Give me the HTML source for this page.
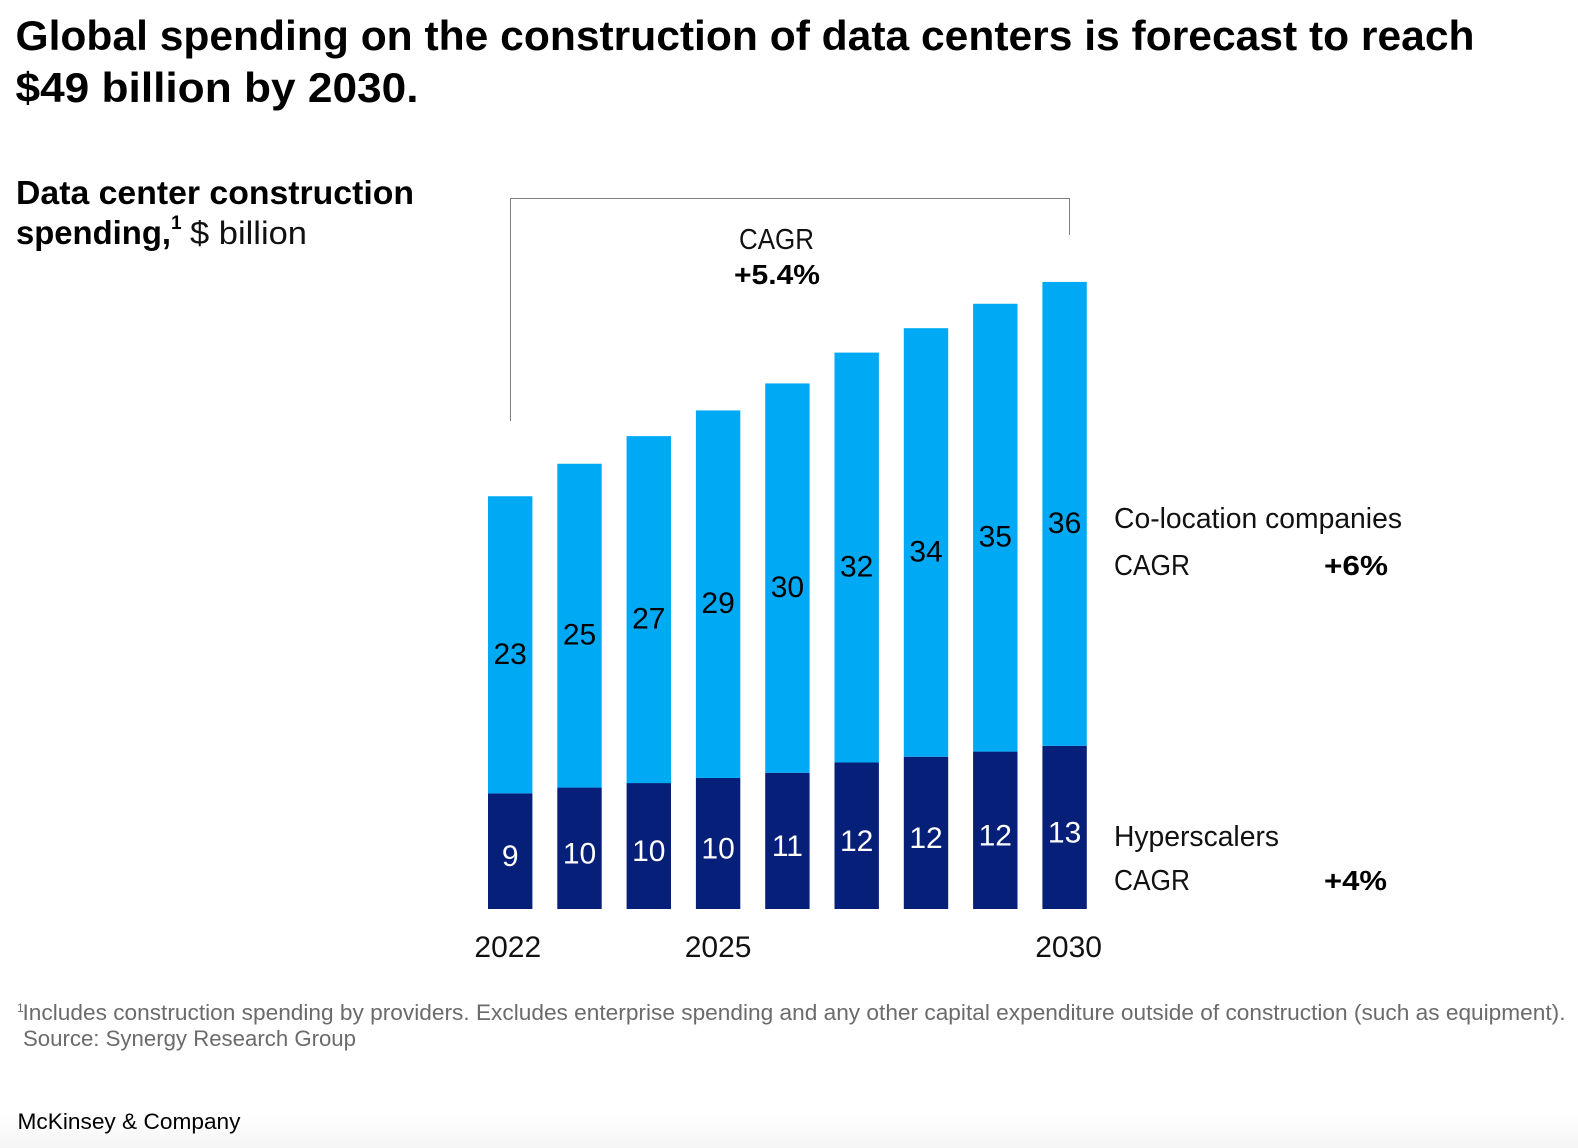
<!DOCTYPE html>
<html lang="en">
<head>
<meta charset="utf-8">
<title>Data center construction spending</title>
<style>
html,body{margin:0;padding:0;background:#fff;width:1578px;height:1148px;overflow:hidden}
svg{display:block}
text{font-family:"Liberation Sans",Arial,sans-serif;fill:#000}
.title{font-size:42px;font-weight:700}
.sub{font-size:33px;font-weight:700}
.reg{font-size:29px;fill:#111}
.strong{font-size:28px;font-weight:700}
.foot{font-size:22px;fill:#6b6b6b}
</style>
</head>
<body>
<svg id="chart" xmlns="http://www.w3.org/2000/svg" width="1578" height="1148" viewBox="0 0 1578 1148">
  <defs>
    <linearGradient id="bottomFade" x1="0" y1="0" x2="0" y2="1">
      <stop offset="0" stop-color="#ffffff"/>
      <stop offset="1" stop-color="#f5f5f5"/>
    </linearGradient>
  </defs>
  <rect x="0" y="0" width="1578" height="1148" fill="#ffffff"/>
  <rect x="0" y="1112" width="1578" height="36" fill="url(#bottomFade)"/>

  <text class="title" x="15.5" y="50" textLength="1459" lengthAdjust="spacingAndGlyphs">Global spending on the construction of data centers is forecast to reach</text>
  <text class="title" x="15.5" y="102" textLength="403" lengthAdjust="spacingAndGlyphs">$49 billion by 2030.</text>

  <text class="sub" x="16" y="204" textLength="398" lengthAdjust="spacingAndGlyphs">Data center construction</text>
  <text class="sub" x="16" y="244" textLength="155" lengthAdjust="spacingAndGlyphs">spending,</text>
  <text x="171" y="229" font-size="19" font-weight="700">1</text>
  <text class="reg" x="190" y="244" style="font-size:32px" textLength="117" lengthAdjust="spacingAndGlyphs">$ billion</text>

  <path d="M510.5 421V198.5H1069.5V235" fill="none" stroke="#808080" stroke-width="1"/>
  <text class="reg" x="739" y="249" textLength="75" lengthAdjust="spacingAndGlyphs">CAGR</text>
  <text class="strong" x="734" y="284" textLength="86" lengthAdjust="spacingAndGlyphs">+5.4%</text>

  <g id="bars"></g>
  <g id="xAxis"></g>

  <text class="reg" x="1114" y="528" textLength="288" lengthAdjust="spacingAndGlyphs">Co-location companies</text>
  <text class="reg" x="1114" y="575" textLength="76" lengthAdjust="spacingAndGlyphs">CAGR</text>
  <text class="strong" x="1324" y="575" textLength="64" lengthAdjust="spacingAndGlyphs">+6%</text>
  <text class="reg" x="1114" y="846" textLength="165" lengthAdjust="spacingAndGlyphs">Hyperscalers</text>
  <text class="reg" x="1114" y="890" textLength="76" lengthAdjust="spacingAndGlyphs">CAGR</text>
  <text class="strong" x="1324" y="890" textLength="63" lengthAdjust="spacingAndGlyphs">+4%</text>

  <text x="17" y="1012" font-size="12" style="fill:#6b6b6b">1</text>
  <text class="foot" x="22.5" y="1020" textLength="1543" lengthAdjust="spacingAndGlyphs">Includes construction spending by providers. Excludes enterprise spending and any other capital expenditure outside of construction (such as equipment).</text>
  <text class="foot" x="23" y="1046" textLength="333" lengthAdjust="spacingAndGlyphs">Source: Synergy Research Group</text>
  <text x="17.5" y="1129" font-size="22" textLength="223" lengthAdjust="spacingAndGlyphs">McKinsey &amp; Company</text>
</svg>
<script>
const years = [2022, 2023, 2024, 2025, 2026, 2027, 2028, 2029, 2030];
const shownYears = [2022, 2025, 2030];
const hyperscalerValues = [9, 9.45, 9.8, 10.2, 10.6, 11.4, 11.85, 12.25, 12.7];
const colocationValues = [23.12, 25.2, 27, 28.6, 30.3, 31.9, 33.35, 34.85, 36.1];
const hyperscalerLabels = [9, 10, 10, 10, 11, 12, 12, 12, 13];
const colocationLabels = [23, 25, 27, 29, 30, 32, 34, 35, 36];

const SVG_NS = 'http://www.w3.org/2000/svg';
const baselineY = 909;
const pxPerBillion = 12.85;
const firstBarX = 488;
const barStep = 69.3;
const barWidth = 44.4;

function xBand(i) { return firstBarX + i * barStep; }
function yScale(v) { return baselineY - v * pxPerBillion; }

function makeText(parent, x, y, str, fill, size) {
  const t = document.createElementNS(SVG_NS, 'text');
  t.setAttribute('x', x);
  t.setAttribute('y', y);
  t.setAttribute('text-anchor', 'middle');
  t.setAttribute('font-size', size);
  t.style.fill = fill;
  t.textContent = str;
  parent.appendChild(t);
  return t;
}

const barsGroup = document.getElementById('bars');
const axisGroup = document.getElementById('xAxis');

years.forEach(function (year, i) {
  const x = xBand(i);
  const cx = x + barWidth / 2;
  const hyperTop = yScale(hyperscalerValues[i]);
  const coloTop = yScale(hyperscalerValues[i] + colocationValues[i]);

  const lower = document.createElementNS(SVG_NS, 'rect');
  lower.setAttribute('x', x);
  lower.setAttribute('y', hyperTop);
  lower.setAttribute('width', barWidth);
  lower.setAttribute('height', baselineY - hyperTop);
  lower.setAttribute('fill', '#061F79');
  
  
  barsGroup.appendChild(lower);

  const upper = document.createElementNS(SVG_NS, 'rect');
  upper.setAttribute('x', x);
  upper.setAttribute('y', coloTop);
  upper.setAttribute('width', barWidth);
  upper.setAttribute('height', hyperTop - coloTop);
  upper.setAttribute('fill', '#00A9F4');
  
  
  barsGroup.appendChild(upper);

  const lowerLabel = makeText(barsGroup, cx, (hyperTop + baselineY) / 2 + 15, hyperscalerLabels[i], '#ffffff', 30);
  
  

  const upperLabel = makeText(barsGroup, cx, (coloTop + hyperTop) / 2 + 19, colocationLabels[i], '#000000', 30);
  
  

  if (shownYears.indexOf(year) !== -1) {
    const tick = makeText(axisGroup, cx + (i - 3) * 0.8, 957, year, '#111111', 30);
    
    
  }
});
</script>
</body>
</html>
